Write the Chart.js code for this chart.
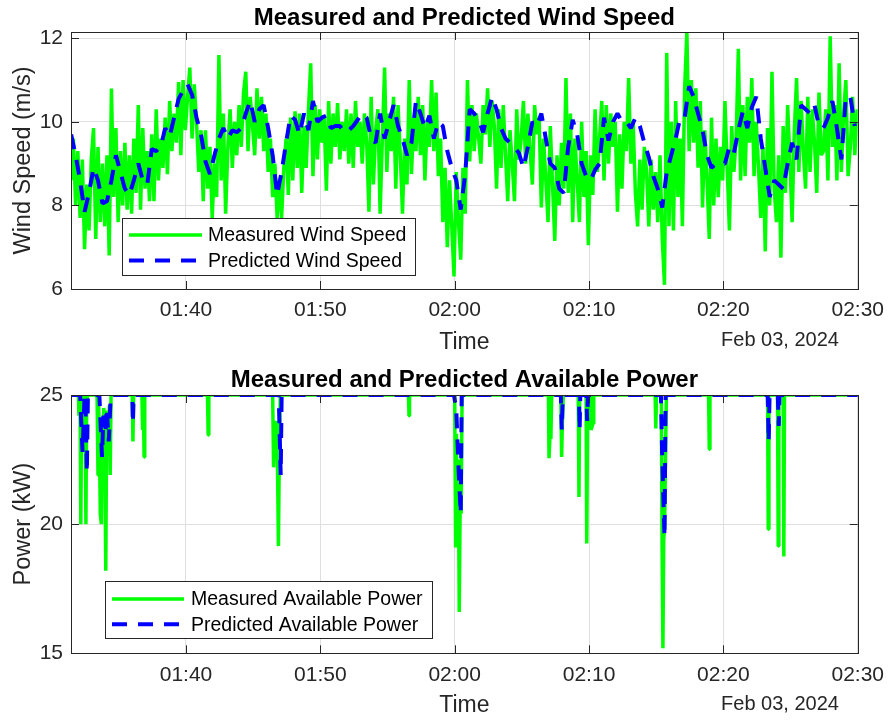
<!DOCTYPE html>
<html>
<head>
<meta charset="utf-8">
<script src="https://cdn.jsdelivr.net/npm/chart.js@4.4.1/dist/chart.umd.min.js"></script>
<style>
  html, body { margin: 0; padding: 0; background: #fff; }
  canvas { display: block; }
</style>
</head>
<body>
<canvas id="speed" width="893" height="360"></canvas>
<canvas id="power" width="893" height="360"></canvas>
<script>
// time axis is minutes after 01:00, Feb 03, 2024
const startMinute = 31.44
const endMinute = 90
const tickMinutes = [40, 50, 60, 70, 80, 90]
const speedTicks = [6, 8, 10, 12]
const powerTicks = [15, 20, 25]

// wind speed (m/s), measured every 10 s (one row per minute)
const measuredStart = 31.45, measuredStep = 1 / 6
const measuredSpeed = [
  8.6, 9.6, 8.0, 9.3, 7.7, 9.1,
  6.95, 8.5, 7.4, 9.1, 9.85, 7.2,
  9.4, 7.6, 9.0, 7.5, 9.2, 6.8,
  10.8, 8.2, 9.85, 7.6, 9.3, 8.0,
  9.5, 7.9, 9.2, 7.8, 9.6, 8.3,
  10.4, 7.9, 9.85, 8.4, 9.3, 8.1,
  9.7, 8.1, 10.3, 8.6, 9.6, 8.9,
  10.1, 8.75, 10.5, 9.3, 10.2, 9.5,
  10.95, 9.2, 11.0, 9.8, 10.6, 11.3,
  9.6, 10.9, 10.0, 8.8, 9.8, 8.1,
  9.8, 8.4, 9.4, 7.7, 9.0, 8.2,
  11.6, 8.6, 10.2, 7.8, 9.4, 10.3,
  8.9, 10.0, 9.2, 10.4, 9.4, 10.7,
  11.2, 9.3, 10.6, 9.9, 9.2, 10.8,
  9.6, 10.6, 9.3, 10.2, 8.8, 9.6,
  8.2, 9.0, 7.7, 8.6, 7.7, 8.9,
  9.6, 8.25, 10.1, 8.6, 10.25, 8.9,
  10.2, 8.3, 9.9, 8.9, 10.3, 11.4,
  8.7, 10.4, 9.1, 10.3, 9.5, 10.1,
  8.35, 10.5, 9.0, 10.2, 9.4, 10.45,
  9.1, 10.0, 9.3, 10.3, 9.0, 10.2,
  8.9, 10.5, 9.4, 10.0, 9.0, 10.2,
  9.5, 7.85, 10.6, 8.5, 9.8, 10.3,
  7.8, 9.6, 11.3, 8.8, 10.2, 9.3,
  10.6, 8.4, 10.4, 9.2, 7.8, 9.6,
  8.5, 11.0, 8.75, 10.1, 9.3, 10.6,
  9.2, 10.4, 8.6, 10.0, 9.4, 11.0,
  9.3, 10.7, 8.7, 9.6, 7.6, 8.9,
  7.0, 8.6, 7.5, 6.3, 8.8, 7.6,
  6.7, 8.9, 7.8, 11.0, 9.05, 10.4,
  9.3, 10.2, 9.6, 9.0, 10.4, 9.7,
  10.8, 9.4, 10.5, 9.9, 8.4, 10.3,
  8.9, 10.4, 9.2, 8.1, 9.8, 9.0,
  8.1, 10.3, 9.1, 9.6, 10.5, 9.0,
  10.2, 9.3, 8.5, 10.4, 9.7, 10.1,
  7.95, 9.6, 8.6, 7.6, 9.9, 8.5,
  7.15, 9.2, 8.0, 9.5, 8.4, 11.05,
  8.3, 10.2, 7.6, 9.6, 8.6, 7.6,
  10.0, 8.2, 9.3, 7.05, 9.2, 8.25,
  10.3, 8.8, 9.6, 10.5, 8.6, 10.4,
  9.0, 10.2, 9.4, 10.0, 7.85, 9.7,
  8.4, 10.0, 9.3, 11.05, 9.0, 10.0,
  8.3, 7.5, 9.1, 7.9, 9.4, 8.8,
  7.5, 9.1, 7.9, 8.8, 7.6, 9.2,
  7.2, 6.1, 11.65, 7.5, 10.0, 7.4,
  10.5, 8.2, 9.6, 7.5, 10.8, 12.15,
  9.3, 11.0, 9.5, 10.8, 8.9, 10.5,
  7.95, 9.8, 8.6, 7.2, 10.1, 8.0,
  9.6, 8.2, 9.4, 8.6, 10.5, 8.9,
  7.4, 9.9, 8.8, 9.6, 11.75, 8.6,
  10.4, 8.7, 10.6, 9.5, 11.05, 8.7,
  10.0, 8.9, 7.7, 9.4, 6.9, 9.85,
  8.0, 11.2, 8.4, 7.6, 9.2, 6.75,
  9.9, 8.3, 10.4, 9.1, 7.6, 9.8,
  11.05, 8.8, 10.5, 9.3, 8.4, 10.6,
  8.8, 10.3, 9.5, 8.3, 10.7, 9.2,
  9.3, 10.3, 8.6, 12.05, 9.4, 10.4,
  8.6, 11.4, 8.8, 10.2, 11.0, 8.7,
  9.4, 10.6, 9.2, 10.3
]

// wind speed (m/s), predicted every 20 s (one row per minute)
const predictedStart = 31.45, predictedStep = 1 / 3
const predictedSpeed = [
  9.7, 9.2, 8.6,    7.85, 8.3, 8.9,   8.6, 8.05, 8.1,   8.6, 9.2, 8.8,
  8.4, 8.25, 8.6,   9.0, 8.6, 8.5,    9.35, 9.3, 9.4,   9.85, 9.65, 10.1,
  10.55, 10.75, 10.9, 10.65, 10.1, 9.7, 9.05, 8.75, 9.2, 9.6, 9.85, 9.6,
  9.8, 9.75, 9.85,  10.2, 10.5, 10.0, 10.3, 10.4, 9.85, 9.2, 8.25, 8.8,
  9.5, 10.15, 10.05, 9.7, 10.2, 9.8,  10.5, 10.0, 10.1, 10.15, 9.85, 9.9,
  9.9, 9.75, 9.8,   9.9, 10.05, 10.2, 10.1, 9.6, 9.5,  10.2, 9.6, 10.0,
  10.4, 9.9, 9.6,   9.2, 9.5, 10.5,   10.2, 9.85, 10.15, 9.6, 10.0, 9.9,
  9.3, 8.9, 8.6,    7.9, 8.75, 10.3,  10.2, 10.05, 9.75, 10.2, 10.6, 10.3,
  9.85, 9.6, 9.5,   9.4, 9.25, 8.9,   9.4, 10.0, 9.9,   10.2, 9.6, 9.0,
  8.9, 8.4, 8.3,    9.4, 10.05, 9.7,  9.0, 8.7, 8.6,    8.85, 9.0, 10.1,
  9.55, 10.0, 10.2, 10.0, 10.0, 9.85, 10.1, 9.9, 9.5,   9.15, 8.7, 8.4,
  7.95, 8.8, 9.2,   9.6, 10.1, 10.1,  10.85, 10.6, 10.2, 9.8, 9.2, 8.9,
  9.0, 9.0, 9.0,    9.4, 9.25, 9.8,   10.25, 9.85, 10.35, 10.6, 9.6, 8.9,
  8.2, 8.6, 8.5,    8.4, 9.0, 9.5,    9.1, 10.4, 10.3,  10.2, 10.4, 9.9,
  9.85, 10.1, 10.5, 9.85, 9.1, 10.6,  10.6, 9.9
]

// available power (kW); flat at 25 except for the dips
const measuredPowerTimes = [
  31.45, 32.0, 32.03, 32.08, 32.12, 32.17, 32.23, 32.3, 32.36, 32.48, 32.55, 32.6, 32.66,
  33.38, 33.45, 33.5, 33.56, 33.62, 33.7, 33.76, 33.82, 33.88, 33.95, 34.03, 34.09, 34.15, 34.22, 34.3, 34.36, 34.42,
  36.0, 36.05, 36.1, 36.72, 36.77, 36.82, 36.88, 36.93,
  41.6, 41.65, 41.7,
  46.45, 46.52, 46.6, 46.7, 46.8, 46.88, 46.95, 47.02,
  56.56, 56.6, 56.64,
  60.0, 60.07, 60.13, 60.2, 60.27, 60.34, 60.41, 60.48, 60.55,
  66.98, 67.02, 67.1, 67.16, 67.22, 67.9, 67.96, 68.02, 68.08,
  69.2, 69.25, 69.3, 69.78, 69.83, 69.9, 70.1, 70.15, 70.3, 70.35,
  74.92, 74.97, 75.02, 75.38, 75.44, 75.5, 75.56, 75.63, 75.7, 75.76,
  78.9, 78.95, 79.0,
  83.29, 83.34, 83.39, 84.03, 84.08, 84.13, 84.45, 84.5, 84.55,
  90.0
]
const measuredPower = [
  25, 25, 24.2, 25, 24.5, 20.0, 24.6, 23.8, 25, 25, 20.0, 24.2, 25,
  25, 21.9, 24.7, 23.0, 20.4, 20.0, 24.0, 22.8, 24.5, 23.2, 18.2, 23.6, 24.4, 23.5, 24.6, 21.9, 25,
  25, 23.2, 25, 25, 23.65, 25, 22.6, 25,
  25, 23.45, 25,
  25, 22.2, 23.4, 24.0, 22.8, 19.15, 23.0, 25,
  25, 24.2, 25,
  25, 19.1, 23.5, 19.8, 22.5, 16.6, 21.0, 20.4, 25,
  25, 22.55, 23.5, 23.3, 25, 25, 22.6, 24.0, 25,
  25, 21.05, 25, 25, 19.25, 25, 25, 23.65, 23.9, 25,
  25, 23.7, 25, 25, 19.0, 15.2, 19.4, 20.0, 23.0, 25,
  25, 22.9, 25,
  25, 19.8, 25, 25, 19.15, 25, 25, 18.75, 25,
  25
]
const predictedPowerTimes = [
  31.45, 32.12, 32.3, 32.45, 32.5, 32.62, 32.7,
  33.55, 33.75, 33.85, 34.0, 34.1, 34.25, 34.4,
  36.0, 36.05, 36.1,
  46.9, 47.05, 47.12,
  59.95, 60.12, 60.3, 60.45, 60.52,
  67.9, 67.97, 68.05, 69.25, 69.3, 69.35, 69.8, 69.86, 69.92,
  75.35, 75.45, 75.62, 75.7,
  83.3, 83.37, 83.44, 84.05, 84.12, 84.18,
  90.0
]
const predictedPower = [
  25, 25, 22.8, 25, 25, 22.0, 25,
  25, 22.6, 24.2, 23.5, 24.5, 23.2, 25,
  25, 23.9, 25,
  25, 21.9, 25,
  25, 24.4, 22.0, 20.4, 25,
  25, 23.65, 25, 25, 23.65, 25, 25, 24.0, 25,
  25, 22.5, 19.5, 25,
  25, 23.2, 25, 25, 23.8, 25,
  25
]

const FONT = "'Liberation Sans', Arial, Helvetica, sans-serif"
const INK = '#262626'
Chart.defaults.font.family = FONT

const series = (start, step, values) => values.map((y, i) => ({ x: start + step * i, y }))
const pairs = (times, values) => times.map((x, i) => ({ x, y: values[i] }))
const clock = m => {
  const h = 1 + Math.floor(m / 60), mm = Math.round(m % 60)
  return String(h).padStart(2, '0') + ':' + String(mm).padStart(2, '0')
}

const measuredStyle = { borderColor: '#00ff00', borderWidth: 3.5, order: 2 }
const predictedStyle = { borderColor: '#0000ff', borderWidth: 4, borderDash: [15, 11], order: 1 }

// box, inward ticks, title, date and the legend inside the axes
const overlay = {
  id: 'overlay',
  afterDraw(chart, args, o) {
    const { ctx, chartArea: a, scales: { x, y } } = chart
    ctx.save()
    ctx.strokeStyle = INK
    ctx.lineWidth = 1
    ctx.beginPath()
    for (const t of x.ticks) {
      const px = Math.round(x.getPixelForValue(t.value)) + 0.5
      ctx.moveTo(px, a.bottom); ctx.lineTo(px, a.bottom - 8)
      ctx.moveTo(px, a.top); ctx.lineTo(px, a.top + 8)
    }
    for (const t of y.ticks) {
      const py = Math.round(y.getPixelForValue(t.value)) + 0.5
      ctx.moveTo(a.left, py); ctx.lineTo(a.left + 8, py)
      ctx.moveTo(a.right, py); ctx.lineTo(a.right - 8, py)
    }
    ctx.stroke()
    ctx.strokeRect(Math.round(a.left) + 0.5, Math.round(a.top) + 0.5,
      Math.round(a.right - a.left), Math.round(a.bottom - a.top))

    ctx.textAlign = 'center'
    ctx.textBaseline = 'middle'
    ctx.fillStyle = '#000'
    ctx.font = 'bold 24px ' + FONT
    ctx.fillText(o.title, (a.left + a.right) / 2, o.titleY)
    ctx.fillStyle = INK
    ctx.font = '20px ' + FONT
    ctx.fillText('Feb 03, 2024', 780, o.dateY)

    const L = o.legend
    ctx.fillStyle = '#fff'
    ctx.fillRect(L.x, L.y, L.w, L.h)
    ctx.strokeStyle = INK
    ctx.lineWidth = 1
    ctx.strokeRect(L.x + 0.5, L.y + 0.5, L.w, L.h)
    ctx.textAlign = 'left'
    ctx.font = '19.5px ' + FONT
    L.rows.forEach((row, i) => {
      const ds = chart.data.datasets[i]
      ctx.strokeStyle = ds.borderColor
      ctx.lineWidth = ds.borderWidth
      ctx.setLineDash(ds.borderDash || [])
      ctx.beginPath()
      ctx.moveTo(L.x0, row); ctx.lineTo(L.x1, row)
      ctx.stroke()
      ctx.setLineDash([])
      ctx.fillStyle = '#000'
      ctx.fillText(ds.label, L.textX, row + 1)
    })
    ctx.restore()
  }
}

function panel(id, o) {
  return new Chart(document.getElementById(id), {
    type: 'line',
    data: { datasets: o.datasets },
    options: {
      responsive: false,
      animation: false,
      layout: { padding: { top: o.top, right: 31, bottom: 0, left: 0 } },
      elements: {
        point: { radius: 0 },
        line: { tension: 0, borderJoinStyle: 'bevel', fill: false }
      },
      plugins: { legend: { display: false }, tooltip: { enabled: false }, overlay: o.overlay },
      scales: {
        x: {
          type: 'linear', min: startMinute, max: endMinute,
          afterBuildTicks: s => { s.ticks = tickMinutes.map(v => ({ value: v })) },
          afterFit: s => { s.height = 360 - o.bottom },
          border: { display: false },
          grid: { color: '#dfdfdf', drawTicks: false },
          ticks: { callback: v => clock(v), color: INK, font: { size: 21 }, padding: 9, maxRotation: 0 },
          title: { display: true, text: 'Time', color: INK, font: { size: 23 }, padding: { top: 0, bottom: o.timePad } }
        },
        y: {
          min: o.yMin, max: o.yMax,
          afterBuildTicks: s => { s.ticks = o.yTicks.map(v => ({ value: v })) },
          afterFit: s => { s.width = 71 },
          border: { display: false },
          grid: { color: '#dfdfdf', drawTicks: false },
          ticks: { color: INK, font: { size: 21 }, padding: 8 },
          title: { display: true, text: o.yLabel, color: INK, font: { size: 23.5 }, padding: { top: 9, bottom: 0 } }
        }
      }
    },
    plugins: [overlay]
  })
}

panel('speed', {
  top: 32, bottom: 289, timePad: 4,
  yMin: 6, yMax: 12.15, yTicks: speedTicks, yLabel: 'Wind Speed (m/s)',
  datasets: [
    { label: 'Measured Wind Speed', data: series(measuredStart, measuredStep, measuredSpeed), ...measuredStyle },
    { label: 'Predicted Wind Speed', data: series(predictedStart, predictedStep, predictedSpeed), ...predictedStyle }
  ],
  overlay: {
    title: 'Measured and Predicted Wind Speed', titleY: 18, dateY: 340,
    legend: { x: 122, y: 218, w: 293, h: 57, rows: [235, 260.5], x0: 129, x1: 202, textX: 208 }
  }
})

panel('power', {
  top: 35, bottom: 293.3, timePad: 1,
  yMin: 15, yMax: 25, yTicks: powerTicks, yLabel: 'Power (kW)',
  datasets: [
    { label: 'Measured Available Power', data: pairs(measuredPowerTimes, measuredPower), ...measuredStyle },
    { label: 'Predicted Available Power', data: pairs(predictedPowerTimes, predictedPower), ...predictedStyle }
  ],
  overlay: {
    title: 'Measured and Predicted Available Power', titleY: 20.7, dateY: 344,
    legend: { x: 105, y: 221, w: 327, h: 57, rows: [239, 264.3], x0: 112, x1: 184, textX: 191 }
  }
})
</script>
</body>
</html>
